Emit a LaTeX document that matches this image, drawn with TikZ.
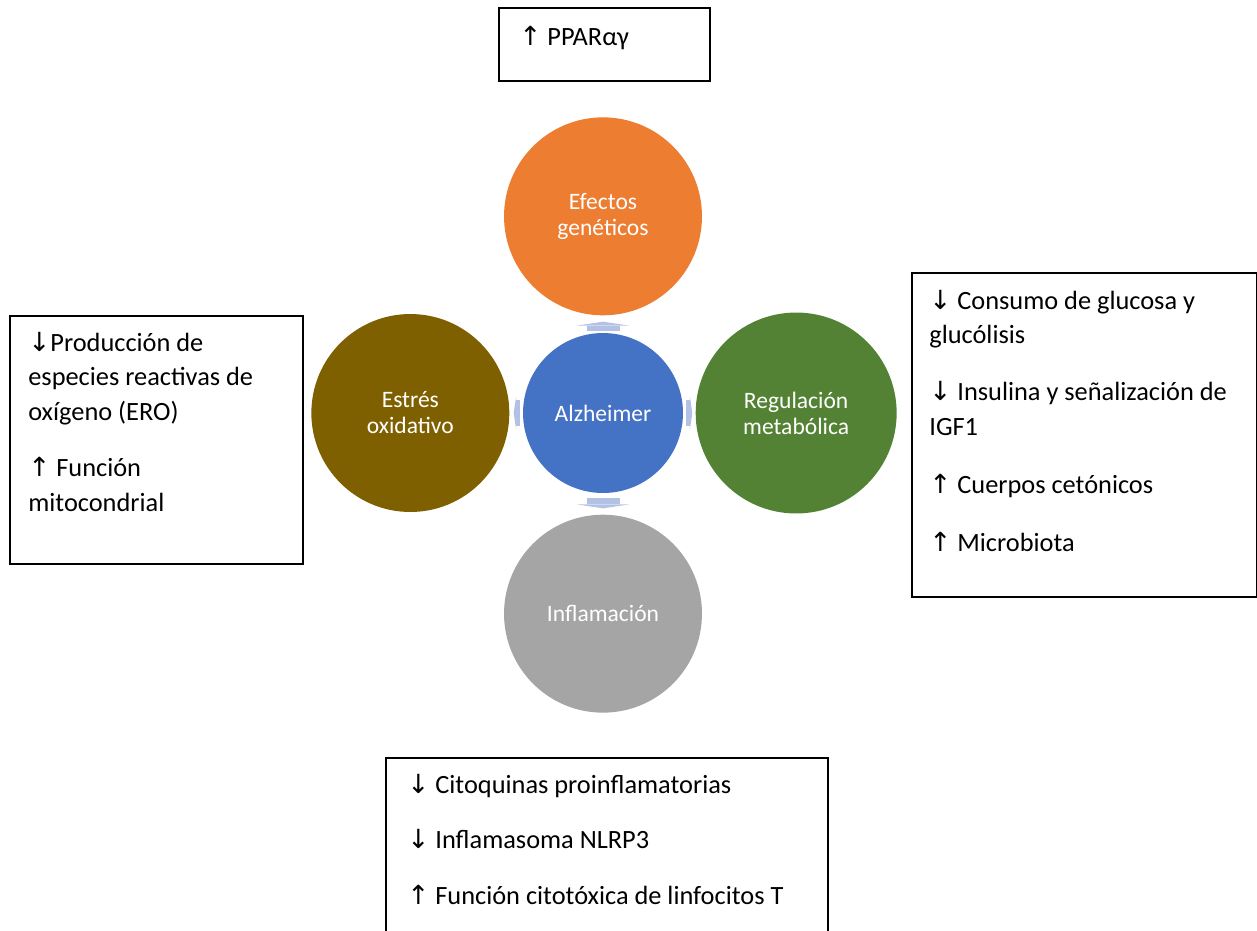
\documentclass[tikz,border=0pt]{standalone}
\usepackage{fontspec}
\setmainfont{Carlito}
\newfontfamily\arrfont{DejaVu Sans}
\usetikzlibrary{positioning,arrows.meta}
\definecolor{alzblue}{HTML}{4472C4}
\definecolor{genorange}{HTML}{ED7D31}
\definecolor{oxbrown}{HTML}{7F6000}
\definecolor{metgreen}{HTML}{548235}
\definecolor{inflgrey}{HTML}{A5A5A5}
\definecolor{linkblue}{HTML}{B3C1E5}
\newcommand{\incr}{{\arrfont\char"2191}}
\newcommand{\decr}{{\arrfont\char"2193}}
\newcommand{\factorlist}[1]{\parbox[t]{9cm}{\raggedright #1}}
\tikzset{
  bubble/.style={circle, minimum size=3.96cm, inner sep=0pt, text=white, align=center,
    font=\fontsize{13.4}{14.8}\selectfont},
  factorbox/.style={draw, line width=0.9pt, inner sep=0pt, anchor=north west},
  factors/.style={anchor=base west, inner sep=0pt, font=\fontsize{15}{19.9}\selectfont},
  link/.style={draw=linkblue, line width=0.66cm,
    -{Triangle[width=1.06cm, length=0.08cm, line width=0pt]}},
  sidelink/.style={draw=linkblue, line width=0.52cm,
    -{Triangle[width=0.68cm, length=0.05cm, line width=0pt]}},
}

\begin{document}
\begin{tikzpicture}[x=0.02cm, y=-0.02cm]
  \useasboundingbox (0,0) rectangle (1257,930);
  % the five circles
  \node[bubble, fill=alzblue, minimum size=3.2cm] (alz) at (603,413) {Alzheimer};
  \node[bubble, fill=genorange, above=0.34cm of alz] (gen) {Efectos\\genéticos};
  \node[bubble, fill=oxbrown, left=0.26cm of alz] (ox) {Estrés\\oxidativo};
  \node[bubble, fill=metgreen, right=0.24cm of alz, minimum size=4.02cm] (met) {Regulación\\metabólica};
  \node[bubble, fill=inflgrey, below=0.42cm of alz] (infl) {Inflamación};
  % small arrows out of the centre
  \draw[link, shorten <=0.04cm, shorten >=0.12cm] (alz) -- (gen);
  \draw[link, shorten <=0.10cm, shorten >=0.12cm] (alz) -- (infl);
  \draw[sidelink, shorten <=0.06cm, shorten >=0.08cm] (alz) -- (ox);
  \draw[sidelink, shorten <=0.06cm, shorten >=0.06cm] (alz) -- (met);
  % boxes
  \node[factorbox, minimum width=4.22cm, minimum height=1.46cm] (genbox) at (498,7) {};
  \node[factors] (gentext) at (519,45) {\factorlist{\incr\ PPARαγ}};
  \node[factorbox, minimum width=5.86cm, minimum height=4.96cm] (oxbox) at (9,315) {};
  \node[factors] (oxtext) at (28,351) {\factorlist{\decr Producción de\\especies reactivas de\\oxígeno (ERO)\\[0.42cm]
    \incr\ Función\\mitocondrial}};
  \node[factorbox, minimum width=6.9cm, minimum height=6.48cm] (metbox) at (911,272) {};
  \node[factors] (mettext) at (929,309) {\factorlist{\decr\ Consumo de glucosa y\\glucólisis\\[0.44cm]
    \decr\ Insulina y señalización de\\IGF1\\[0.46cm]
    \incr\ Cuerpos cetónicos\\[0.46cm]
    \incr\ Microbiota}};
  \node[factorbox, minimum width=8.84cm, minimum height=3.9cm] (inflbox) at (385,757) {};
  \node[factors] (infltext) at (407,793) {\factorlist{\decr\ Citoquinas proinflamatorias\\[0.42cm]
    \decr\ Inflamasoma NLRP3\\[0.42cm]
    \incr\ Función citotóxica de linfocitos T}};
\end{tikzpicture}
\end{document}
